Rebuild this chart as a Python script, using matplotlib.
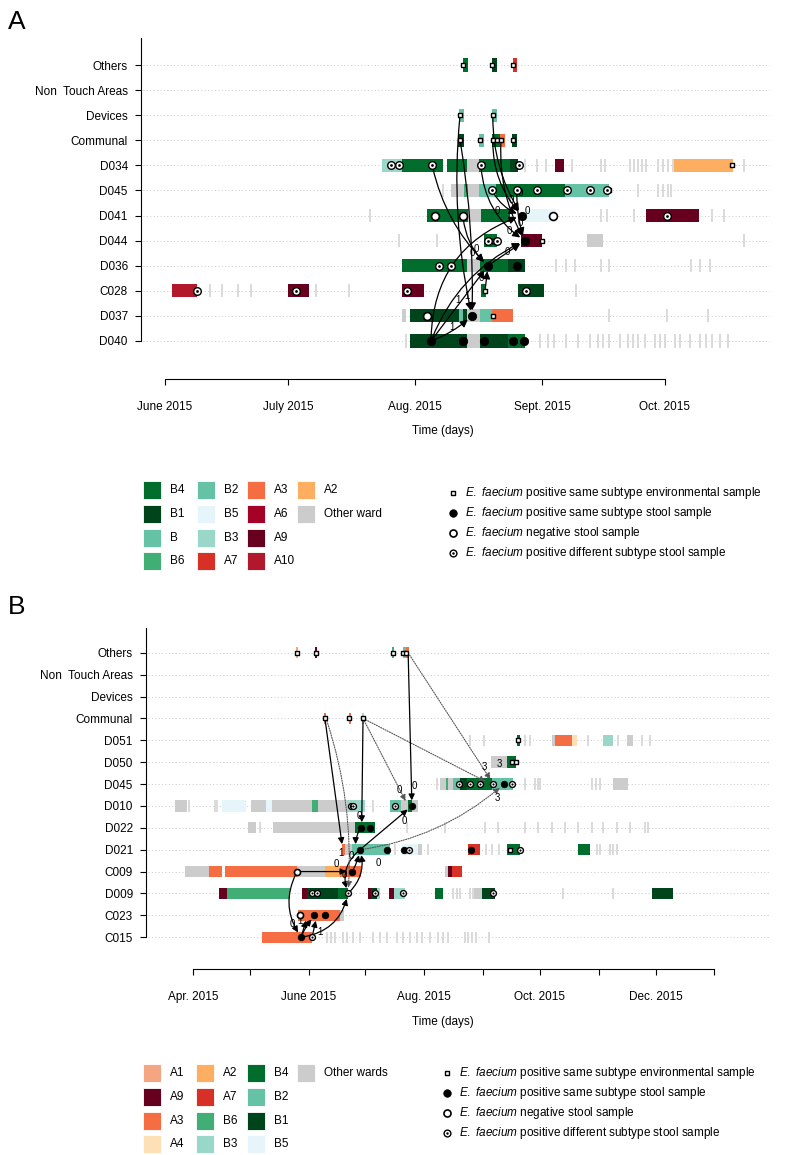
import numpy as np
import matplotlib.pyplot as plt
from matplotlib.patches import FancyArrowPatch, Rectangle

plt.rcParams['font.family'] = 'Liberation Sans'
plt.rcParams['mathtext.fontset'] = 'custom'
plt.rcParams['mathtext.rm'] = 'Liberation Sans'
plt.rcParams['mathtext.it'] = 'Liberation Sans:italic'

colours = {'B4': '#006d2c', 'B1': '#00441b', 'B': '#66c2a4', 'B6': '#41ae76',
           'B2': '#66c2a4', 'B5': '#e5f5f9', 'B3': '#99d8c9', 'A7': '#d73027',
           'A3': '#f46d43', 'A6': '#a50026', 'A9': '#67001f', 'A10': '#b2182b',
           'A2': '#fdae61', 'A1': '#f4a582', 'A4': '#fee0b6', 'other': '#cccccc'}

# ---------------- panel A : days since 1 June 2015 ----------------
rows_a = ['D040', 'D037', 'C028', 'D036', 'D044', 'D041', 'D045', 'D034',
          'Communal', 'Devices', 'Non  Touch Areas', 'Others']
ticks_a = [0, 30, 61, 92, 122]
ticklabels_a = ['June 2015', 'July 2015', 'Aug. 2015', 'Sept. 2015', 'Oct. 2015']

# (row, first day, last day, ward)
stays_a = [
    ('Others', 72.7, 73.9, 'B4'), ('Others', 79.8, 81.0, 'B1'), ('Others', 84.9, 85.9, 'A7'),
    ('Devices', 71.7, 73.0, 'B2'), ('Devices', 79.8, 81.0, 'B2'),
    ('Communal', 71.5, 73.0, 'B1'), ('Communal', 76.6, 77.8, 'B2'), ('Communal', 79.8, 81.7, 'B4'),
    ('Communal', 81.7, 83.0, 'A3'), ('Communal', 84.7, 85.9, 'B1'),
    ('D034', 52.9, 57.8, 'B3'), ('D034', 57.8, 67.8, 'B4'), ('D034', 68.7, 73.7, 'B4'),
    ('D034', 73.7, 76.6, 'other'), ('D034', 76.6, 84.2, 'B4'), ('D034', 84.2, 86.1, 'B1'),
    ('D034', 95.2, 97.4, 'A9'), ('D034', 124.2, 138.6, 'A2'),
    ('D045', 69.8, 73.0, 'other'), ('D045', 73.0, 73.9, 'B6'), ('D045', 73.9, 76.6, 'other'),
    ('D045', 76.6, 80.8, 'B2'), ('D045', 80.8, 97.6, 'B4'), ('D045', 97.6, 108.3, 'B2'),
    ('D041', 63.9, 73.9, 'B4'), ('D041', 73.9, 77.1, 'other'), ('D041', 77.1, 84.2, 'B4'),
    ('D041', 87.8, 95.4, 'B5'), ('D041', 117.4, 130.3, 'A9'),
    ('D044', 77.8, 81.0, 'B4'), ('D044', 86.9, 92.0, 'A9'), ('D044', 103.0, 106.9, 'other'),
    ('D036', 57.8, 73.7, 'B4'), ('D036', 73.7, 76.9, 'other'), ('D036', 76.9, 83.7, 'B4'),
    ('D036', 83.7, 87.8, 'B1'),
    ('C028', 1.7, 7.8, 'A10'), ('C028', 30.0, 35.1, 'A9'), ('C028', 57.8, 63.2, 'A9'),
    ('C028', 77.1, 78.3, 'B4'), ('C028', 86.1, 92.5, 'B1'),
    ('D037', 57.8, 58.8, 'other'), ('D037', 59.8, 71.7, 'B1'), ('D037', 71.7, 72.7, 'B2'),
    ('D037', 72.7, 73.7, 'B1'), ('D037', 73.7, 76.9, 'other'), ('D037', 76.9, 79.8, 'B2'),
    ('D037', 79.8, 84.9, 'A3'),
    ('D040', 59.8, 73.7, 'B1'), ('D040', 73.7, 76.9, 'other'), ('D040', 76.9, 83.7, 'B1'),
    ('D040', 83.7, 87.8, 'B4'),
]

# single-day visits to other wards
visits_a = {
    'D034': [87.8, 90.8, 93.0, 99.3, 106.4, 107.4, 113.5, 114.5, 115.4, 116.4, 117.4,
             120.3, 121.5, 122.7, 124.0, 141.3],
    'D045': [67.8, 115.4, 120.3, 121.5, 122.7, 123.5],
    'D041': [50.0, 106.4, 107.9, 114.5, 133.5, 136.4],
    'D044': [57.1, 66.3, 141.3],
    'D036': [95.4, 97.9, 100.0, 106.4, 108.3, 128.4, 130.5, 133.0],
    'C028': [11.0, 13.9, 17.8, 21.0, 36.8, 44.9, 100.3],
    'D037': [108.3, 122.5, 132.5],
    'D040': [58.8, 91.5, 93.5, 94.9, 97.9, 100.8, 103.7, 105.7, 106.9, 108.3, 111.0, 113.0,
             114.2, 115.4, 117.1, 119.6, 120.8, 122.0, 124.5, 125.7, 128.2, 130.5, 132.0,
             133.5, 135.4, 137.4],
}

# (row, day, kind)
samples_a = [
    ('Others', 72.7, 'env'), ('Others', 79.8, 'env'), ('Others', 84.9, 'env'),
    ('Devices', 72.0, 'env'), ('Devices', 80.0, 'env'),
    ('Communal', 72.0, 'env'), ('Communal', 76.9, 'env'), ('Communal', 80.0, 'env'),
    ('Communal', 81.0, 'env'), ('Communal', 82.0, 'env'), ('Communal', 84.9, 'env'),
    ('D034', 55.1, 'diff'), ('D034', 57.1, 'diff'), ('D034', 65.2, 'diff'), ('D034', 77.1, 'diff'),
    ('D034', 86.4, 'diff'), ('D034', 138.4, 'env'),
    ('D045', 79.8, 'diff'), ('D045', 85.9, 'diff'), ('D045', 90.8, 'diff'), ('D045', 98.1, 'diff'),
    ('D045', 103.7, 'diff'), ('D045', 107.9, 'diff'), ('D045', 108.3, 'env'),
    ('D041', 65.9, 'neg'), ('D041', 72.7, 'neg'), ('D041', 87.1, 'pos'), ('D041', 94.7, 'neg'),
    ('D041', 122.5, 'diff'),
    ('D044', 78.8, 'diff'), ('D044', 81.0, 'diff'), ('D044', 80.0, 'env'), ('D044', 87.8, 'pos'),
    ('D044', 92.0, 'env'),
    ('D036', 66.9, 'diff'), ('D036', 69.8, 'diff'), ('D036', 78.8, 'pos'), ('D036', 85.9, 'pos'),
    ('C028', 7.8, 'diff'), ('C028', 32.0, 'diff'), ('C028', 59.0, 'diff'), ('C028', 78.1, 'env'),
    ('C028', 88.1, 'diff'),
    ('D037', 63.9, 'neg'), ('D037', 74.9, 'pos'), ('D037', 80.0, 'env'),
    ('D040', 64.9, 'pos'), ('D040', 72.7, 'pos'), ('D040', 77.8, 'pos'), ('D040', 84.9, 'pos'),
    ('D040', 87.6, 'pos'),
]

# (from row, day, to row, day, curvature, line, SNP label, label day, label row)
links_a = [
    ('D040', 64.9, 'D037', 74.9, 0.1, 'solid', '1', 70.0, 0.55),
    ('D040', 64.9, 'D036', 78.8, 0.0, 'solid', None, 0, 0),
    ('D040', 64.9, 'D041', 87.1, -0.35, 'solid', '0', 81.0, 5.2),
    ('D040', 64.9, 'D044', 87.8, -0.2, 'solid', None, 0, 0),
    ('Devices', 72.0, 'D037', 74.9, 0.08, 'solid', '1', 71.4, 1.65),
    ('Communal', 72.0, 'D037', 74.9, -0.05, 'solid', '1', 73.6, 1.8),
    ('Devices', 80.0, 'D041', 87.1, 0.15, 'solid', '0', 84.5, 5.6),
    ('Communal', 80.0, 'D041', 87.1, 0.2, 'solid', '0', 86.8, 5.9),
    ('Communal', 82.0, 'D044', 87.8, 0.15, 'solid', '0', 88.5, 5.2),
    ('D034', 77.1, 'D044', 87.8, 0.25, 'solid', '0', 84.0, 4.4),
    ('D034', 65.2, 'D036', 78.8, 0.15, 'solid', '0', 75.0, 3.5),
    ('D045', 79.8, 'D041', 87.1, 0.2, 'solid', None, 0, 0),
    ('D045', 85.9, 'D044', 87.8, 0.1, 'solid', '0', 86.6, 4.7),
    ('D041', 72.7, 'D036', 78.8, 0.2, 'solid', '0', 76.0, 3.65),
    ('D036', 78.8, 'D044', 87.8, 0.0, 'solid', '0', 83.5, 3.55),
    ('C028', 78.1, 'D036', 78.8, 0.0, 'solid', '0', 77.3, 2.5),
]

# ---------------- panel B : days since 1 April 2015 ----------------
rows_b = ['C015', 'C023', 'D009', 'C009', 'D021', 'D022', 'D010', 'D045', 'D050', 'D051',
          'Communal', 'Devices', 'Non  Touch Areas', 'Others']
ticks_b = [0, 30, 61, 91, 122, 153, 183, 214, 244, 275]
ticklabels_b = ['Apr. 2015', '', 'June 2015', '', 'Aug. 2015', '', 'Oct. 2015', '', 'Dec. 2015', '']

stays_b = [
    ('Others', 54.4, 55.4, 'A1'), ('Others', 64.4, 65.4, 'A9'), ('Others', 105.0, 106.0, 'B6'),
    ('Others', 110.8, 112.4, 'B2'), ('Others', 112.4, 113.9, 'A3'),
    ('Communal', 69.1, 70.2, 'A3'), ('Communal', 82.3, 83.4, 'A3'), ('Communal', 89.2, 90.2, 'B3'),
    ('D051', 171.0, 172.5, 'B4'), ('D051', 189.4, 191.0, 'other'), ('D051', 191.0, 200.0, 'A3'),
    ('D051', 200.0, 202.6, 'A4'), ('D051', 216.3, 221.6, 'B3'), ('D051', 229.0, 232.1, 'other'),
    ('D050', 157.2, 165.7, 'other'), ('D050', 165.7, 170.4, 'B4'),
    ('D045', 130.3, 133.5, 'other'), ('D045', 133.5, 134.5, 'B6'), ('D045', 134.5, 137.2, 'other'),
    ('D045', 137.2, 140.9, 'B2'), ('D045', 140.9, 144.6, 'B1'), ('D045', 144.6, 157.7, 'B4'),
    ('D045', 157.7, 168.8, 'B2'), ('D045', 221.6, 229.5, 'other'),
    ('D010', -9.5, -3.2, 'other'), ('D010', 15.3, 28.0, 'B5'), ('D010', 30.6, 38.5, 'other'),
    ('D010', 38.5, 41.7, 'B5'), ('D010', 41.7, 62.8, 'other'), ('D010', 62.8, 65.9, 'B6'),
    ('D010', 65.9, 81.2, 'other'), ('D010', 81.2, 90.7, 'B3'), ('D010', 103.9, 109.7, 'B2'),
    ('D010', 109.7, 113.4, 'other'), ('D010', 113.4, 115.5, 'B4'), ('D010', 115.5, 118.7, 'other'),
    ('D022', 29.0, 33.2, 'other'), ('D022', 42.2, 85.5, 'other'), ('D022', 85.5, 96.0, 'B4'),
    ('D021', 78.6, 80.2, 'A3'), ('D021', 80.2, 83.9, 'other'), ('D021', 83.9, 103.9, 'B2'),
    ('D021', 110.3, 118.7, 'B5'), ('D021', 118.7, 120.8, 'other'), ('D021', 145.1, 151.4, 'A7'),
    ('D021', 165.7, 172.5, 'B4'), ('D021', 203.1, 209.4, 'B4'),
    ('C009', -4.2, 8.4, 'other'), ('C009', 8.4, 15.3, 'A3'), ('C009', 16.9, 54.9, 'A3'),
    ('C009', 54.9, 69.6, 'other'), ('C009', 69.6, 77.6, 'A2'), ('C009', 77.6, 88.6, 'A3'),
    ('C009', 132.9, 134.5, 'other'), ('C009', 134.5, 136.6, 'A9'), ('C009', 136.6, 141.9, 'A7'),
    ('D009', 13.7, 17.9, 'A9'), ('D009', 17.9, 51.2, 'B6'), ('D009', 57.5, 60.1, 'A9'),
    ('D009', 60.1, 76.5, 'B1'), ('D009', 76.5, 81.8, 'B4'), ('D009', 92.3, 93.9, 'A9'),
    ('D009', 93.9, 97.1, 'B1'), ('D009', 97.1, 98.7, 'B3'), ('D009', 103.4, 106.0, 'A9'),
    ('D009', 106.0, 111.8, 'B3'), ('D009', 127.7, 131.9, 'B4'), ('D009', 148.2, 152.5, 'other'),
    ('D009', 152.5, 159.3, 'B1'), ('D009', 242.2, 253.2, 'B1'),
    ('C023', 55.4, 77.6, 'A3'), ('C023', 77.6, 79.7, 'other'),
    ('C015', 36.4, 62.8, 'A3'),
]

visits_b = {
    'D051': [146.1, 153.5, 175.2, 177.8, 208.4, 224.2, 236.9, 241.1],
    'D045': [128.7, 175.2, 180.4, 182.0, 183.1, 210.5, 212.6, 214.7],
    'D010': [-2.1, 11.6, 12.7, 95.0],
    'D022': [35.3, 112.9, 132.9, 154.0, 160.9, 175.2, 182.0, 189.4, 196.3, 203.1, 210.5,
             216.3, 223.7, 230.5, 238.5, 240.0],
    'D021': [106.6, 124.0, 154.6, 157.7, 161.4, 213.1, 214.7, 220.0, 221.6, 223.7],
    'D009': [137.2, 139.3, 140.9, 146.1, 147.7, 195.2, 221.6],
    'C015': [70.7, 72.8, 74.9, 79.1, 81.2, 84.4, 88.1, 95.0, 98.7, 102.3, 107.6, 110.8, 114.5,
             118.2, 120.8, 125.0, 129.3, 131.9, 134.5, 143.5, 145.1, 147.2, 149.3, 156.2],
}

samples_b = [
    ('Others', 54.9, 'env'), ('Others', 64.9, 'env'), ('Others', 105.5, 'env'),
    ('Others', 110.8, 'env'), ('Others', 112.4, 'env'),
    ('Communal', 69.6, 'env'), ('Communal', 82.3, 'env'), ('Communal', 89.7, 'env'),
    ('D051', 171.5, 'env'), ('D050', 168.3, 'env'), ('D050', 170.4, 'env'),
    ('D045', 140.3, 'diff'), ('D045', 146.1, 'diff'), ('D045', 151.4, 'diff'),
    ('D045', 158.3, 'diff'), ('D045', 164.1, 'pos'), ('D045', 168.3, 'diff'),
    ('D010', 83.4, 'diff'), ('D010', 84.4, 'diff'), ('D010', 106.6, 'diff'), ('D010', 115.5, 'pos'),
    ('D022', 88.6, 'pos'), ('D022', 93.4, 'pos'),
    ('D021', 88.1, 'pos'), ('D021', 102.3, 'pos'), ('D021', 111.3, 'pos'), ('D021', 114.0, 'diff'),
    ('D021', 146.7, 'pos'), ('D021', 167.2, 'env'), ('D021', 172.5, 'diff'),
    ('C009', 54.9, 'neg'), ('C009', 83.9, 'pos'),
    ('D009', 62.8, 'diff'), ('D009', 65.4, 'diff'), ('D009', 81.8, 'diff'), ('D009', 96.0, 'diff'),
    ('D009', 110.8, 'diff'), ('D009', 158.3, 'diff'),
    ('C023', 56.4, 'neg'), ('C023', 63.8, 'pos'), ('C023', 69.6, 'pos'),
    ('C015', 57.0, 'pos'), ('C015', 62.8, 'diff'),
]

links_b = [
    ('C015', 57.0, 'C023', 60.5, 0.0, 'solid', '0', 52.2, 0.6),
    ('C015', 57.0, 'C023', 64.5, -0.1, 'solid', '1', 56.6, 0.75),
    ('C015', 62.8, 'C023', 65.4, 0.0, 'solid', '1', 67.0, 0.25),
    ('C015', 57.0, 'D009', 81.8, 0.35, 'solid', None, 0, 0),
    ('C009', 54.9, 'C015', 57.0, 0.3, 'solid', None, 0, 0),
    ('C009', 54.9, 'C009', 83.9, 0.0, 'solid', '0', 75.4, 3.35),
    ('C009', 83.9, 'D021', 88.1, 0.1, 'solid', '0', 79.7, 2.85),
    ('D009', 81.8, 'D021', 88.1, 0.3, 'solid', None, 0, 0),
    ('D021', 88.1, 'D009', 81.8, 0.35, 'solid', None, 0, 0),
    ('Communal', 69.6, 'D021', 79.0, 0.0, 'solid', '1', 78.0, 3.85),
    ('Communal', 70.2, 'D009', 81.8, -0.1, 'dotted', '0', 97.6, 3.4),
    ('Communal', 89.7, 'D022', 89.0, 0.0, 'solid', '0', 87.6, 5.55),
    ('Communal', 89.7, 'D010', 113.5, 0.0, 'dotted', '0', 108.7, 6.75),
    ('Communal', 89.7, 'D045', 157.0, 0.0, 'dotted', '3', 153.5, 7.8),
    ('Others', 113.5, 'D010', 115.5, 0.0, 'solid', '0', 117.0, 6.9),
    ('Others', 113.5, 'D045', 158.5, 0.0, 'dotted', '3', 161.4, 7.9),
    ('D021', 88.1, 'D010', 115.5, 0.0, 'solid', '0', 111.3, 5.3),
    ('D021', 88.1, 'D045', 164.1, 0.15, 'dotted', '3', 160.4, 6.36),
    ('D022', 88.6, 'D021', 86.0, 0.2, 'solid', '0', 83.5, 3.7),
]

legend_a = ['B4', 'B1', 'B', 'B6', 'B2', 'B5', 'B3', 'A7', 'A3', 'A6', 'A9', 'A10', 'A2', 'other']
legend_a_text = legend_a[:-1] + ['Other ward']
legend_b = ['A1', 'A9', 'A3', 'A4', 'A2', 'A7', 'B6', 'B3', 'B4', 'B2', 'B1', 'B5', 'other']
legend_b_text = legend_b[:-1] + ['Other wards']
sample_kinds = ['env', 'pos', 'neg', 'diff']
sample_text = [r'$\it{E.\ faecium}$ positive same subtype environmental sample',
               r'$\it{E.\ faecium}$ positive same subtype stool sample',
               r'$\it{E.\ faecium}$ negative stool sample',
               r'$\it{E.\ faecium}$ positive different subtype stool sample']

BAR_H = 0.52

fig = plt.figure(figsize=(8, 11.55), dpi=100)


def px_axes(left, right, top, bottom):
    return fig.add_axes([left / 800, 1 - bottom / 1155, (right - left) / 800, (bottom - top) / 1155])


def put_samples(ax, xs, ys, kind, scale=1.0, z=6):
    if kind == 'env':
        ax.scatter(xs, ys, marker='s', s=11 * scale, fc='white', ec='black', lw=1.0, zorder=z)
    elif kind == 'pos':
        ax.scatter(xs, ys, marker='o', s=36 * scale, fc='black', ec='black', lw=0.6, zorder=z)
    elif kind == 'neg':
        ax.scatter(xs, ys, marker='o', s=32 * scale, fc='white', ec='black', lw=1.2, zorder=z)
    else:
        ax.scatter(xs, ys, marker='o', s=30 * scale, fc='white', ec='black', lw=1.0, zorder=z)
        ax.scatter(xs, ys, marker='o', s=4 * scale, fc='black', lw=0, zorder=z + 1)


def draw_panel(ax, rows, stays, visits, samples, links, xlim, ylim, ticks, ticklabels, xbound, small):
    ax.set_xlim(xlim)
    ax.set_ylim(ylim)
    ypos = {r: i for i, r in enumerate(rows)}
    for i in range(len(rows)):
        ax.plot([xlim[0] + 1.5 * (xlim[1] - xlim[0]) / 600, xlim[1]], [i, i], ls=(0, (1, 2.5)),
                lw=0.7, color='#c8c8c8', zorder=0)
    for r, days in visits.items():
        ax.vlines(days, ypos[r] - BAR_H / 2, ypos[r] + BAR_H / 2, color='#dadada', lw=1.4, zorder=1)
    for r, s, e, w in stays:
        ax.barh(ypos[r], e - s, left=s, height=BAR_H, color=colours[w], lw=0, zorder=2)
    for r0, d0, r1, d1, rad, style, lab, ld, lr in links:
        dotted = style == 'dotted'
        ax.add_patch(FancyArrowPatch((d0, ypos[r0]), (d1, ypos[r1]),
                                     connectionstyle=f'arc3,rad={rad}', arrowstyle='-|>',
                                     mutation_scale=9 if small else 11,
                                     lw=0.8 if dotted else 0.9, ls=(0, (1, 1.2)) if dotted else '-',
                                     color='#555555' if dotted else 'black',
                                     shrinkA=2, shrinkB=4, zorder=4))
        if lab:
            ax.text(ld, lr, lab, fontsize=7, ha='center', va='center', zorder=5)
    scale = 0.6 if small else 1.0
    for kind in sample_kinds:
        xs = [d for r, d, k in samples if k == kind]
        ys = [ypos[r] for r, d, k in samples if k == kind]
        put_samples(ax, xs, ys, kind, scale)

    for s in ['top', 'right']:
        ax.spines[s].set_visible(False)
    ax.spines['left'].set_bounds(0, ylim[1])
    ax.spines['bottom'].set_bounds(*xbound)
    for s in ['left', 'bottom']:
        ax.spines[s].set_linewidth(0.8)
    ax.set_yticks(range(len(rows)))
    ax.set_yticklabels(rows)
    ax.set_xticks(ticks)
    ax.set_xticklabels(ticklabels)
    ax.tick_params(axis='y', length=4.5, width=0.8, labelsize=8.5, pad=5)
    ax.tick_params(axis='x', length=4.5, width=0.8, labelsize=8.5, pad=11.5)
    ax.set_xlabel('Time (days)', fontsize=8.5)


ax_a = px_axes(141, 770, 38, 379)
draw_panel(ax_a, rows_a, stays_a, visits_a, samples_a, links_a,
           ((141 - 165) / 4.098, (770 - 165) / 4.098), ((341 - 379) / 25.09, (341 - 38) / 25.09),
           ticks_a, ticklabels_a, (0, 122), small=False)
ax_a.xaxis.set_label_coords((443 - 141) / 629, -(425 - 379) / 341)

ax_b = px_axes(146, 770, 628, 969)
draw_panel(ax_b, rows_b, stays_b, visits_b, samples_b, links_b,
           ((146 - 193) / 1.8955, (770 - 193) / 1.8955), ((937.2 - 969) / 21.88, (937.2 - 628) / 21.88),
           ticks_b, ticklabels_b, (0, 275), small=True)
ax_b.xaxis.set_label_coords((443 - 146) / 624, -(1016 - 969) / 341)

# legends and panel letters in pixel coordinates
lg = fig.add_axes([0, 0, 1, 1])
lg.set_xlim(0, 800)
lg.set_ylim(1155, 0)
lg.axis('off')


def ward_legend(wards, texts, top, col_x):
    for i, (w, t) in enumerate(zip(wards, texts)):
        col, row = divmod(i, 4)
        y = top + row * 23.8
        lg.add_patch(Rectangle((col_x[col], y - 9), 18, 18, fc=colours[w], ec='white', lw=0.6))
        lg.text(col_x[col] + 27, y, t, va='center', fontsize=8.5)


def sample_legend(top, x, step):
    for i, (k, t) in enumerate(zip(sample_kinds, sample_text)):
        y = top + i * step
        put_samples(lg, [x], [y], k, 0.8)
        lg.text(x + 12, y, t, va='center', fontsize=8.5)


ward_legend(legend_a, legend_a_text, 490, [143, 197, 247, 297])
sample_legend(493, 453, 20)
ward_legend(legend_b, legend_b_text, 1073, [143, 196, 247, 297])
sample_legend(1073, 447, 20)

lg.text(8, 22, 'A', fontsize=19, va='center')
lg.text(8, 607, 'B', fontsize=19, va='center')

fig.savefig('out.png', dpi=100)
